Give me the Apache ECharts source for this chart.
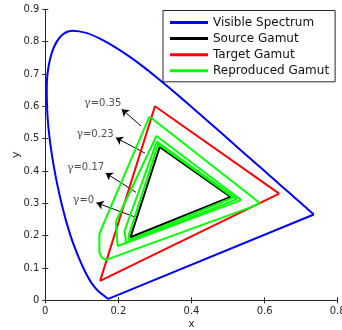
<!DOCTYPE html>
<html><head><meta charset="utf-8">
<script src="https://cdn.jsdelivr.net/npm/echarts@6/dist/echarts.min.js"></script>
<style>html,body{margin:0;padding:0;background:#fff}#c{width:342px;height:330px}</style>
</head><body><div id="c"></div>
<script>
// CIE 1931 spectral locus (visible spectrum), closed by the purple line
const locusX = [0.1741,0.1740,0.1738,0.1736,0.1733,0.1730,0.1726,0.1721,0.1714,0.1703,0.1689,0.1669,0.1644,0.1611,0.1566,0.1510,0.1440,0.1355,0.1241,0.1096,0.0913,0.0687,0.0454,0.0235,0.0082,0.0039,0.0139,0.0389,0.0743,0.1142,0.1547,0.1929,0.2296,0.2658,0.3016,0.3373,0.3731,0.4087,0.4441,0.4788,0.5125,0.5448,0.5752,0.6029,0.6270,0.6482,0.6658,0.6801,0.6915,0.7006,0.7079,0.7140,0.7190,0.7230,0.7260,0.7283,0.7300,0.7320,0.7334,0.7344,0.7347];
const locusY = [0.0050,0.0050,0.0049,0.0049,0.0048,0.0048,0.0048,0.0048,0.0051,0.0058,0.0069,0.0086,0.0109,0.0138,0.0177,0.0227,0.0297,0.0399,0.0578,0.0868,0.1327,0.2007,0.2950,0.4127,0.5384,0.6548,0.7502,0.8120,0.8338,0.8262,0.8059,0.7816,0.7543,0.7243,0.6923,0.6589,0.6245,0.5896,0.5547,0.5202,0.4866,0.4544,0.4242,0.3965,0.3725,0.3514,0.3340,0.3197,0.3083,0.2993,0.2920,0.2859,0.2809,0.2770,0.2740,0.2717,0.2700,0.2680,0.2666,0.2656,0.2653];
// purple line closing the locus
const purpleX = [0.7347,0.1741];
const purpleY = [0.2653,0.0050];

const sourceX = [0.507,0.313,0.233,0.507];
const sourceY = [0.320,0.474,0.195,0.320];
const targetX = [0.64,0.30,0.15,0.64];
const targetY = [0.33,0.60,0.06,0.33];

const repro0X   = [0.514,0.309,0.228,0.229,0.514];
const repro0Y   = [0.318,0.483,0.200,0.186,0.318];
const repro17X  = [0.524,0.305,0.217,0.221,0.524];
const repro17Y  = [0.313,0.491,0.215,0.178,0.313];
const repro23X  = [0.536,0.304,0.299,0.193,0.198,0.536];
const repro23Y  = [0.310,0.508,0.508,0.243,0.168,0.310];
const repro35X  = [0.587,0.291,0.284,0.157,0.148,0.148,0.154,0.166,0.565,0.587];
const repro35Y  = [0.301,0.563,0.566,0.230,0.204,0.148,0.133,0.125,0.289,0.301];

// annotations: label text, label position, arrow tail -> head
const annLabels = ['0.35','0.23','0.17','0'];
const annTextX  = [0.157,0.136,0.110,0.1045];
const annTextY  = [0.609,0.514,0.410,0.310];
const arrowTailX = [0.262,0.273,0.248,0.243];
const arrowTailY = [0.539,0.455,0.334,0.2586];
const arrowHeadX = [0.209,0.193,0.165,0.140];
const arrowHeadY = [0.591,0.503,0.394,0.3016];

const xTicks = [0,0.2,0.4,0.6,0.8];
const yTicks = [0,0.1,0.2,0.3,0.4,0.5,0.6,0.7,0.8,0.9];

const zip = (xs, ys) => xs.map((x, i) => [x, ys[i]]);
const axisColor = '#262626';
const font = 'DejaVu Sans';

function lineSeries(name, xs, ys, color, w, smooth) {
  return {
    type: 'line', name, data: zip(xs, ys), showSymbol: false, symbol: 'none', smooth: smooth || false,
    lineStyle: { color, width: w }, itemStyle: { color }, animation: false, silent: true, clip: false
  };
}

const series = [
  lineSeries('Visible Spectrum', locusX, locusY, '#0000ff', 2, 0.35),
  lineSeries('Visible Spectrum', purpleX, purpleY, '#0000ff', 2),
  lineSeries('Source Gamut', sourceX, sourceY, '#000000', 2),
  lineSeries('Target Gamut', targetX, targetY, '#ff0000', 2),
  lineSeries('Reproduced Gamut', repro0X, repro0Y, '#00ff00', 2),
  lineSeries('Reproduced Gamut', repro17X, repro17Y, '#00ff00', 2),
  lineSeries('Reproduced Gamut', repro23X, repro23Y, '#00ff00', 2),
  lineSeries('Reproduced Gamut', repro35X, repro35Y, '#00ff00', 2),
  {
    type: 'lines', coordinateSystem: 'cartesian2d', animation: false, silent: true,
    symbol: ['none', 'arrow'], symbolSize: [0, 7],
    lineStyle: { color: '#000', width: 1, opacity: 1 },
    data: arrowTailX.map((x, i) => ({ coords: [[x, arrowTailY[i]], [arrowHeadX[i], arrowHeadY[i]]] }))
  },
  {
    type: 'scatter', symbolSize: 0, animation: false, silent: true,
    data: annTextX.map((x, i) => [x, annTextY[i], annLabels[i]]),
    label: {
      show: true, position: 'inside',
      formatter: p => '{g|γ}{t|=' + p.value[2] + '}',
      rich: {
        g: { fontFamily: 'DejaVu Serif', fontSize: 11, color: '#222' },
        t: { fontFamily: font, fontSize: 10, color: '#222' }
      }
    }
  }
];

const chart = echarts.init(document.getElementById('c'), null, { renderer: 'canvas' });
chart.setOption({
  animation: false,
  backgroundColor: '#fff',
  grid: { left: 45.3, right: 4.3, top: 9.3, bottom: 29.7, containLabel: false, outerBoundsMode: 'none' },
  legend: {
    left: 163, top: 10.5, orient: 'vertical',
    padding: [6, 6, 5, 7], itemGap: 4.1, itemWidth: 38, itemHeight: 3,
    icon: 'rect', borderColor: axisColor, borderWidth: 1, backgroundColor: '#fff',
    data: ['Visible Spectrum', 'Source Gamut', 'Target Gamut', 'Reproduced Gamut'],
    textStyle: { fontFamily: font, fontSize: 12, color: '#111', lineHeight: 12 }
  },
  xAxis: [
    { type: 'value', min: 0, max: 0.8, interval: 0.2, position: 'bottom',
      name: 'x', nameLocation: 'middle', nameGap: 18, nameMoveOverlap: false,
      nameTextStyle: { fontFamily: font, fontSize: 11, color: axisColor },
      axisLine: { show: true, lineStyle: { color: axisColor, width: 1 } },
      axisTick: { show: true, inside: true, length: 3, lineStyle: { color: axisColor } },
      axisLabel: { fontFamily: font, fontSize: 10, color: axisColor, margin: 6, hideOverlap: false,
                   formatter: v => xTicks.includes(+v.toFixed(1)) ? String(+v.toFixed(1)) : '' },
      splitLine: { show: false } },
    { type: 'value', min: 0, max: 0.8, interval: 0.2, position: 'top',
      axisLine: { show: true, lineStyle: { color: axisColor, width: 1 } },
      axisTick: { show: true, inside: true, length: 3, lineStyle: { color: axisColor } },
      axisLabel: { show: false }, splitLine: { show: false } }
  ],
  yAxis: [
    { type: 'value', min: 0, max: 0.9, interval: 0.1, position: 'left',
      name: 'y', nameLocation: 'middle', nameGap: 24, nameMoveOverlap: false,
      nameTextStyle: { fontFamily: font, fontSize: 11, color: axisColor },
      axisLine: { show: true, lineStyle: { color: axisColor, width: 1 } },
      axisTick: { show: true, inside: true, length: 3, lineStyle: { color: axisColor } },
      axisLabel: { fontFamily: font, fontSize: 10, color: axisColor, margin: 6,
                   formatter: v => yTicks.includes(+v.toFixed(1)) ? String(+v.toFixed(1)) : '' },
      splitLine: { show: false } },
    { type: 'value', min: 0, max: 0.9, interval: 0.1, position: 'right',
      axisLine: { show: true, lineStyle: { color: axisColor, width: 1 } },
      axisTick: { show: true, inside: true, length: 3, lineStyle: { color: axisColor } },
      axisLabel: { show: false }, splitLine: { show: false } }
  ],
  series
});
</script>
</body></html>
